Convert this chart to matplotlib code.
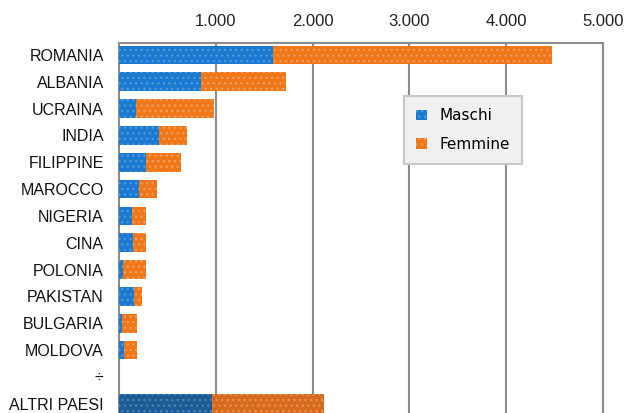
import matplotlib
matplotlib.use("Agg")
import matplotlib.pyplot as plt
from matplotlib.patches import Patch

countries = ["ROMANIA", "ALBANIA", "UCRAINA", "INDIA", "FILIPPINE", "MAROCCO",
             "NIGERIA", "CINA", "POLONIA", "PAKISTAN", "BULGARIA", "MOLDOVA",
             "÷", "ALTRI PAESI"]
maschi = [1590, 847, 176, 413, 279, 207, 134, 145, 41, 155, 31, 52, 0, 961]
femmine = [2883, 878, 805, 289, 361, 186, 145, 134, 238, 83, 155, 134, 0, 1157]
xticks = [1000, 2000, 3000, 4000, 5000]
xtick_labels = ["1.000", "2.000", "3.000", "4.000", "5.000"]

blue = "#1a78cf"
orange = "#ef7718"
blue_dark = "#1d5b96"
orange_dark = "#d66c1b"
blue_dot = "#4f9be0"
orange_dot = "#f59e5c"
blue_dark_dot = "#4d82b6"
orange_dark_dot = "#e6925a"

fig = plt.figure(figsize=(6.28, 4.13), dpi=100)
ax = fig.add_axes([119/628, 1 - 417/413, (603 - 119)/628, 374/413])

y = list(range(len(countries)))
for i in y:
    last = countries[i] == "ALTRI PAESI"
    bc, oc = (blue_dark, orange_dark) if last else (blue, orange)
    bd, od = (blue_dark_dot, orange_dark_dot) if last else (blue_dot, orange_dot)
    ax.barh(i, maschi[i], height=0.7, color=bc, edgecolor=bd, hatch="...", linewidth=0, zorder=3)
    ax.barh(i, femmine[i], left=maschi[i], height=0.7, color=oc, edgecolor=od, hatch="...", linewidth=0, zorder=3)

ax.set_xlim(0, 5000)
ax.set_ylim(13.5, -0.45)
ax.set_yticks(y)
ax.set_yticklabels(countries, family="Liberation Sans", fontsize=11.5, color="#111111")
ax.set_xticks(xticks)
ax.set_xticklabels(xtick_labels, family="Liberation Sans", fontsize=12, color="#222222")
ax.xaxis.tick_top()
ax.tick_params(axis="both", length=0)
ax.tick_params(axis="x", pad=10)
ax.tick_params(axis="y", pad=11)
ax.grid(axis="x", color="#8c8c8c", linewidth=1.5, zorder=0)
for s in ["top", "left", "right"]:
    ax.spines[s].set_color("#8c8c8c")
    ax.spines[s].set_linewidth(1.5)
ax.spines["bottom"].set_visible(False)

handles = [Patch(facecolor=blue, edgecolor=blue_dot, hatch="...", linewidth=0, label="Maschi"),
           Patch(facecolor=orange, edgecolor=orange_dot, hatch="...", linewidth=0, label="Femmine")]
leg = ax.legend(handles=handles, loc="upper left", bbox_to_anchor=((404-119)/484, 1 - (96-43)/374),
                prop={"family": "DejaVu Sans", "size": 11}, frameon=True, fancybox=False,
                handlelength=0.7, handleheight=0.7, handletextpad=0.8, labelspacing=0.9,
                borderpad=0.8, borderaxespad=0)
leg.get_frame().set_facecolor("#f0f0f0")
leg.get_frame().set_edgecolor("#c8c8c8")
leg.get_frame().set_linewidth(1.5)
leg.get_frame().set_alpha(1)
leg.set_zorder(5)

fig.savefig("out.png", dpi=100)
